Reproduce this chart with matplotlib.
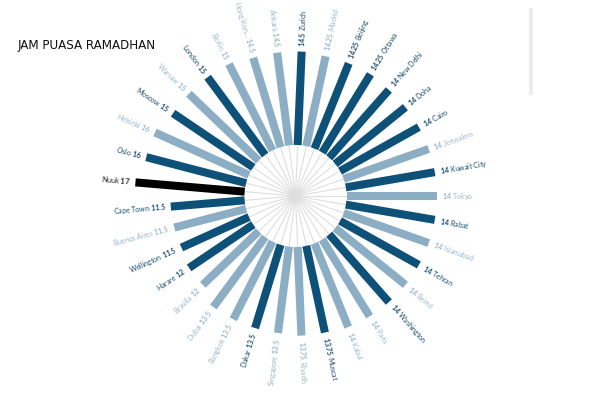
import numpy as np
import matplotlib
matplotlib.use("Agg")
import matplotlib.pyplot as plt
from matplotlib.patches import Rectangle

# ---------------- data (clockwise from top) ----------------
cities = ["Zurich", "Madrid", "Beijing", "Ottawa", "New Delhi", "Doha", "Cairo",
          "Jerusalem", "Kuwait City", "Tokyo", "Rabat", "Islamabad", "Tehran",
          "Beirut", "Washington", "Paris", "Kabul", "Muscat", "Riyadh",
          "Singapore", "Dakar", "Bangkok", "Dubai", "Brasilia", "Harare",
          "Wellington", "Buenos Aires", "Cape Town", "Nuuk", "Oslo", "Helsinki",
          "Moscow", "Warsaw", "London", "Berlin", "Hong Kon...", "Ankara"]
hours = [14.5, 14.25, 14.25, 14.25, 14, 14, 14,
         14, 14, 14, 14, 14, 14,
         14, 14, 14, 14, 13.75, 13.75,
         13.5, 13.5, 13.5, 13.5, 12, 12,
         11.5, 11.5, 11.5, 17, 16, 16,
         15, 15, 15, 15, 14.5, 14.5]
# group: 1 = dark, 0 = light, 2 = highlight
group = [1, 0, 1, 1, 1, 1, 1,
         0, 1, 0, 1, 0, 1,
         0, 1, 0, 0, 1, 0,
         0, 1, 0, 0, 0, 1,
         1, 0, 1, 2, 1, 0,
         1, 0, 1, 0, 0, 0]
title = "JAM PUASA RAMADHAN"

# ---------------- styles ----------------
bar_colors = {1: "#0d5078", 0: "#8caec4", 2: "#000000"}
text_colors = {1: "#1a4c6c", 0: "#9ab7ca", 2: "#222222"}

plt.rcParams["mathtext.fontset"] = "custom"
plt.rcParams["mathtext.rm"] = "Lato"
plt.rcParams["mathtext.bf"] = "Lato:bold"

W, H = 600, 400
fig = plt.figure(figsize=(6, 4), dpi=100)
fig.patch.set_facecolor("white")

cx, cy = 295.5, 204.0        # centre in px (from bottom)
px_per_unit = 6.45
rmax = 30.0
rad_px = rmax * px_per_unit
ax = fig.add_axes([(cx - rad_px) / W, (cy - rad_px) / H, 2 * rad_px / W, 2 * rad_px / H],
                  projection="polar")
ax.set_theta_zero_location("N")
ax.set_theta_direction(-1)
ax.set_ylim(0, rmax)
ax.set_axis_off()

n = len(cities)
step = 360.0 / n
theta_deg = np.arange(n) * step + step / 4
theta = np.deg2rad(theta_deg)
inner = 51 / px_per_unit
vals = np.array(hours)

# spokes
ax.vlines(theta, 0, inner, colors="#dedede", lw=0.8, zorder=1)

# bars
ax.vlines(theta, inner, inner + vals, colors=[bar_colors[g] for g in group],
          lw=5.8, capstyle="butt", zorder=2)

gap = 5 / px_per_unit
for t, td, v, name, g in zip(theta, theta_deg, hours, cities, group):
    vs = f"{v:g}"
    phi = 90 - td
    if td < 180:
        rot = phi
        ha = "left"
        label = r"$\mathbf{" + vs + r"}\ $" + name
    else:
        rot = phi + 180
        ha = "right"
        label = name + r"$\ \mathbf{" + vs + "}$"
    ax.text(t, inner + v + gap, label, rotation=rot, rotation_mode="anchor",
            ha=ha, va="center", fontsize=5.0, color=text_colors[g],
            family="Lato", clip_on=False)

fig.text(18 / W, 1 - 45 / H, title, fontsize=9.5, va="center", ha="left",
         family="DejaVu Sans", fontstretch="condensed", color="#111111")

fig.add_artist(Rectangle((529 / W, 1 - 95 / H), 4 / W, 87 / H,
                         transform=fig.transFigure, color="#ebebeb", lw=0))

fig.savefig("out.png", dpi=100, facecolor="white")
